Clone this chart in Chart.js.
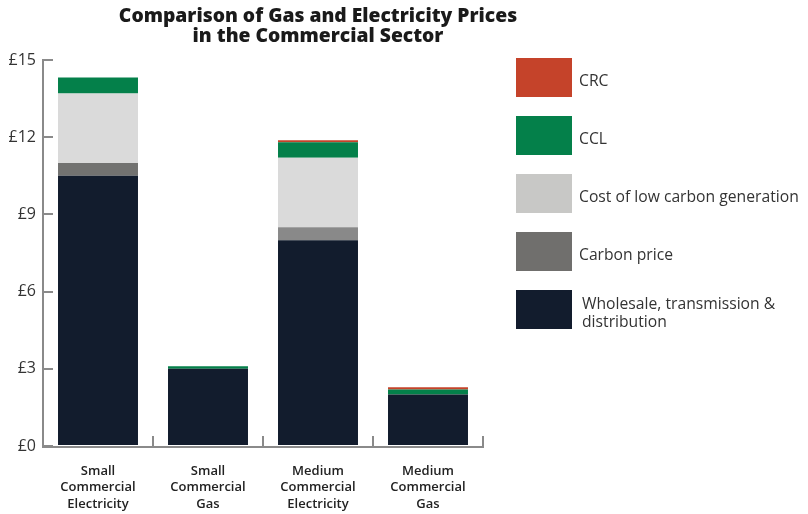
<!DOCTYPE html>
<html>
<head>
<meta charset="utf-8">
<script src="https://cdn.jsdelivr.net/npm/chart.js@4.4.1/dist/chart.umd.min.js"></script>
<style>
  html, body { margin: 0; padding: 0; background: #ffffff; }
  #wrap { width: 808px; height: 514px; position: relative; }
</style>
</head>
<body>
<div id="wrap"><canvas id="chart" width="808" height="514"></canvas></div>
<script>
// Price per unit, stacked by cost component
const categories = [
  ['Small', 'Commercial', 'Electricity'],
  ['Small', 'Commercial', 'Gas'],
  ['Medium', 'Commercial', 'Electricity'],
  ['Medium', 'Commercial', 'Gas']
];
const wholesale   = [10.5, 3.0, 8.0, 2.0];
const carbonPrice = [0.5, 0, 0.5, 0];
const lowCarbon   = [2.7, 0, 2.7, 0];
const ccl         = [0.62, 0.1, 0.6, 0.2];
const crc         = [0, 0, 0.08, 0.08];

const seriesNames = [
  'Wholesale, transmission & distribution',
  'Carbon price',
  'Cost of low carbon generation',
  'CCL',
  'CRC'
];
const legendLines = [
  ['Wholesale, transmission &', 'distribution'],
  ['Carbon price'],
  ['Cost of low carbon generation'],
  ['CCL'],
  ['CRC']
];
const yTicks = [0, 3, 6, 9, 12, 15];
const titleLines = ['Comparison of Gas and Electricity Prices', 'in the Commercial Sector'];

const barColors = [
  '#121c2d',
  ['#727270', '#727270', '#898989', '#898989'],
  '#dadada',
  '#04804a',
  '#c5432a'
];
const legendColors = ['#121c2d', '#706f6d', '#c8c8c6', '#04804a', '#c5432a'];

const values = [wholesale, carbonPrice, lowCarbon, ccl, crc];

const datasets = values.map((v, i) => ({
  label: seriesNames[i],
  data: v,
  backgroundColor: barColors[i],
  borderWidth: 0,
  barPercentage: 0.727,
  categoryPercentage: 1.0,
  stack: 'price'
}));

const axisColor = '#8a8a8a';

// Title, legend and bottom axis line
const sidePlugin = {
  id: 'sideText',
  beforeDatasetsDraw(chart) {
    const ctx = chart.ctx;
    const a = chart.chartArea;
    ctx.save();
    ctx.strokeStyle = axisColor;
    ctx.lineWidth = 2;
    ctx.beginPath();
    ctx.moveTo(a.left - 1, a.bottom + 1);
    ctx.lineTo(a.right + 1, a.bottom + 1);
    ctx.stroke();
    ctx.restore();
  },
  afterDraw(chart) {
    const ctx = chart.ctx;
    ctx.save();
    ctx.fillStyle = '#1a1a1a';
    ctx.font = '800 19.3px "Open Sans"';
    ctx.textAlign = 'center';
    ctx.textBaseline = 'alphabetic';
    ctx.fillText(titleLines[0], 318, 22);
    ctx.fillText(titleLines[1], 318, 42);

    // legend, top item = last series
    const boxX = 516, boxW = 56, boxH = 39, top0 = 58, step = 58;
    ctx.textAlign = 'left';
    ctx.textBaseline = 'middle';
    ctx.font = '15.7px "Open Sans"';
    for (let k = 0; k < seriesNames.length; k++) {
      const idx = seriesNames.length - 1 - k;
      const y = top0 + k * step;
      ctx.fillStyle = legendColors[idx];
      ctx.fillRect(boxX, y, boxW, boxH);
      ctx.fillStyle = '#333333';
      const lines = legendLines[idx];
      const lh = 18;
      const tx = lines.length > 1 ? 582 : 579;
      const startY = y + boxH / 2 - (lines.length - 1) * lh / 2 + 4;
      lines.forEach((ln, j) => ctx.fillText(ln, tx, startY + j * lh));
    }
    ctx.restore();
  }
};

new Chart(document.getElementById('chart'), {
  type: 'bar',
  data: { labels: categories, datasets },
  options: {
    responsive: false,
    animation: false,
    layout: { padding: { top: 60, right: 325, left: 0, bottom: 0 } },
    plugins: {
      legend: { display: false },
      tooltip: { enabled: false },
      title: { display: false }
    },
    scales: {
      x: {
        stacked: true,
        offset: true,
        grid: {
          offset: true,
          drawOnChartArea: false,
          drawTicks: true,
          tickLength: -10,
          color: axisColor,
          lineWidth: 2
        },
        border: { display: false },
        ticks: {
          color: '#222222',
          font: { family: '"Open Sans"', size: 13, weight: '600', lineHeight: 1.27 },
          padding: 27,
          maxRotation: 0,
          autoSkip: false
        },
        afterFit(scale) { scale.height = 68; }
      },
      y: {
        stacked: true,
        min: 0,
        max: 15,
        afterBuildTicks(scale) { scale.ticks = yTicks.map(v => ({ value: v })); },
        grid: {
          drawOnChartArea: false,
          drawTicks: true,
          tickLength: -10,
          color: axisColor,
          lineWidth: 2
        },
        border: { display: true, color: axisColor, width: 2 },
        ticks: {
          color: '#333333',
          font: { family: '"Open Sans"', size: 16 },
          padding: 17,
          callback: v => '£' + v
        },
        afterFit(scale) { scale.width = 43; }
      }
    }
  },
  plugins: [sidePlugin]
});
</script>
</body>
</html>
